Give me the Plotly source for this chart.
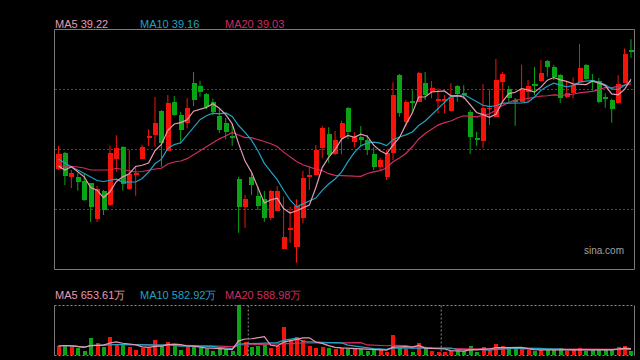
import plotly.graph_objects as go
import pandas as pd

# ---------------- data ----------------
opens = [35.64, 36.28, 35.33, 35.32, 35.16, 35.07, 33.65, 34.76, 34.20, 36.04,
         36.53, 34.84, 35.42, 36.05, 36.90, 37.00, 37.97, 36.37, 38.32, 37.80,
         37.49, 39.08, 38.96, 38.64, 38.32, 37.76, 37.49, 36.93, 35.25, 34.13,
         35.33, 34.56, 34.43, 33.69, 33.97, 32.45, 33.21, 32.53, 33.68, 35.33,
         35.41, 36.49, 37.04, 36.23, 36.89, 38.08, 36.73, 36.93, 36.80, 36.24,
         35.72, 35.33, 36.29, 39.40, 37.53, 38.35, 38.33, 39.08, 38.72, 38.38,
         38.38, 37.96, 38.96, 38.65, 37.92, 36.87, 36.76, 38.04, 37.73, 39.12,
         38.83, 38.38, 38.33, 38.73, 39.02, 39.16, 39.96, 39.72, 39.40, 38.53,
         38.67, 39.13, 39.80, 39.20, 39.16, 38.53, 38.40, 38.27, 39.09, 40.39]
highs = [36.56, 36.32, 35.60, 35.48, 35.44, 35.08, 34.97, 34.80, 36.57, 36.99,
         36.56, 36.41, 35.73, 36.61, 37.23, 38.52, 38.00, 38.60, 38.56, 37.93,
         38.47, 39.52, 39.17, 38.68, 38.45, 38.04, 37.68, 37.44, 35.33, 34.60,
         35.47, 34.93, 34.76, 34.80, 34.96, 34.53, 34.13, 34.43, 35.57, 35.73,
         36.60, 37.36, 37.31, 37.16, 37.57, 38.12, 37.11, 37.36, 37.00, 36.51,
         36.09, 36.40, 39.11, 39.44, 38.40, 38.80, 39.53, 39.52, 39.16, 38.87,
         38.60, 39.07, 39.00, 38.99, 38.00, 37.13, 39.03, 38.83, 40.04, 39.53,
         38.96, 38.48, 39.81, 39.20, 39.72, 40.00, 40.00, 39.80, 39.44, 39.11,
         39.30, 40.64, 39.84, 39.44, 39.28, 38.67, 38.44, 39.39, 40.46, 40.83]
lows = [35.60, 35.00, 34.88, 34.77, 34.36, 33.52, 33.52, 33.80, 34.16, 35.53,
        34.77, 34.80, 34.57, 36.04, 36.56, 36.53, 35.73, 36.36, 37.76, 36.64,
        37.27, 38.16, 38.53, 38.03, 37.80, 37.08, 36.83, 36.56, 33.09, 33.29,
        34.60, 34.00, 33.53, 33.60, 33.96, 32.44, 32.69, 31.89, 33.47, 34.80,
        35.40, 36.07, 35.89, 36.20, 36.23, 36.84, 36.51, 36.56, 36.20, 35.60,
        35.60, 35.20, 36.00, 37.73, 37.33, 37.87, 38.32, 38.40, 38.47, 37.87,
        37.87, 37.94, 38.33, 38.43, 36.24, 36.56, 36.47, 37.40, 37.72, 38.33,
        38.33, 37.37, 38.32, 38.33, 38.60, 39.12, 39.33, 39.20, 38.28, 38.47,
        38.47, 39.12, 39.20, 38.78, 38.27, 38.09, 37.49, 38.26, 39.08, 40.09]
closes = [36.24, 35.37, 35.48, 35.13, 34.40, 34.13, 34.83, 34.00, 36.28, 36.48,
          35.04, 35.45, 35.46, 36.52, 36.94, 37.49, 36.69, 38.29, 37.80, 37.20,
          38.08, 38.40, 38.72, 38.12, 37.92, 37.20, 37.13, 36.89, 34.13, 34.43,
          35.00, 34.16, 33.69, 34.76, 34.76, 32.93, 33.25, 34.16, 35.27, 35.37,
          36.40, 37.28, 36.20, 36.80, 37.49, 37.13, 36.93, 36.80, 36.40, 35.72,
          36.00, 36.27, 38.60, 37.88, 38.32, 38.31, 39.49, 38.60, 38.88, 38.42,
          38.42, 38.51, 38.63, 38.61, 36.93, 36.83, 38.08, 38.08, 39.20, 39.44,
          38.49, 38.34, 38.80, 38.96, 38.98, 39.49, 39.73, 39.33, 38.50, 38.67,
          39.00, 39.69, 39.23, 39.16, 38.33, 38.47, 38.04, 39.04, 40.24, 40.35]
# volume in 万
volumes = [900, 1000, 830, 730, 430, 1730, 1230, 830, 1800, 1000,
           1000, 830, 500, 730, 730, 1500, 930, 1300, 930, 500,
           830, 830, 730, 570, 430, 670, 570, 430, 5000, 1330,
           800, 930, 1070, 730, 900, 2830, 1500, 1830, 1500, 930,
           730, 830, 730, 600, 670, 600, 570, 570, 430, 570,
           570, 330, 2000, 670, 570, 330, 1230, 670, 430, 330,
           330, 430, 430, 430, 900, 330, 830, 500, 1100, 900,
           600, 600, 600, 500, 400, 500, 500, 500, 700, 400,
           500, 700, 400, 500, 600, 500, 600, 800, 900, 400]
ma5_head = [35.76, 35.60, 35.73, 35.53]
ma10_head = [36.04, 35.88, 35.72, 35.60, 35.46, 35.32, 35.18, 35.14, 35.20]
ma20_head = [35.76, 35.76, 35.75, 35.72, 35.68, 35.60, 35.60, 35.60, 35.60, 35.67,
             35.62, 35.54, 35.52, 35.54, 35.60, 35.64, 35.67, 35.84, 35.92]

price_labels = ["MA5 39.22", "MA10 39.16", "MA20 39.03"]
vol_labels = ["MA5 653.61万", "MA10 582.92万", "MA20 588.98万"]
grid_prices = [34.04, 36.44, 38.84]
month_breaks = [29.5, 59.5]

# ---------------- styles ----------------
RED = "#f5140a"
GREEN = "#0aa514"
C_MA5 = "#e89ab4"
C_MA10 = "#1fa3c4"
C_MA20 = "#cf2c62"
W, H = 640, 360

n = len(closes)
x = list(range(n))


def ma(series, k, head):
    vals = pd.Series(series).rolling(k, min_periods=1).mean().tolist()
    for i, v in enumerate(head):
        vals[i] = v
    return vals


ma5 = ma(closes, 5, ma5_head)
ma10 = ma(closes, 10, ma10_head)
ma20 = ma(closes, 20, ma20_head)
vma5 = pd.Series(volumes).rolling(5, min_periods=1).mean().tolist()
vma10 = pd.Series(volumes).rolling(10, min_periods=1).mean().tolist()
vma20 = pd.Series(volumes).rolling(20, min_periods=1).mean().tolist()

up = [c >= o for o, c in zip(opens, closes)]
colors = [RED if u else GREEN for u in up]
base = [min(o, c) for o, c in zip(opens, closes)]
body = [max(abs(c - o), 0.04) for o, c in zip(opens, closes)]

fig = go.Figure()

# wicks
for flag, col in ((True, RED), (False, GREEN)):
    wx, wy = [], []
    for i in range(n):
        if up[i] == flag:
            wx += [i, i, None]
            wy += [lows[i], highs[i], None]
    fig.add_trace(go.Scatter(x=wx, y=wy, mode="lines", line=dict(color=col, width=1),
                             hoverinfo="skip", showlegend=False, xaxis="x", yaxis="y"))

# bodies
fig.add_trace(go.Bar(x=x, y=body, base=base, width=0.78, marker=dict(color=colors, line=dict(width=0)),
                     showlegend=False, xaxis="x", yaxis="y"))

for vals, col in ((ma20, C_MA20), (ma10, C_MA10), (ma5, C_MA5)):
    fig.add_trace(go.Scatter(x=x, y=vals, mode="lines", line=dict(color=col, width=1.2),
                             showlegend=False, xaxis="x", yaxis="y"))

# volume
fig.add_trace(go.Bar(x=x, y=volumes, width=0.62, marker=dict(color=colors, line=dict(width=0)),
                     showlegend=False, xaxis="x2", yaxis="y2"))
for vals, col in ((vma20, C_MA20), (vma10, C_MA10), (vma5, C_MA5)):
    fig.add_trace(go.Scatter(x=x, y=vals, mode="lines", line=dict(color=col, width=1.2),
                             showlegend=False, xaxis="x2", yaxis="y2"))

px = lambda v: v / W
py = lambda v: 1 - v / H

xr = [-0.62, 89.47]
common_x = dict(range=xr, showgrid=False, zeroline=False, showticklabels=False, showline=False,
                domain=[px(54.5), px(634)], fixedrange=True)
fig.update_layout(
    width=W, height=H,
    margin=dict(l=0, r=0, t=0, b=0),
    paper_bgcolor="#000000", plot_bgcolor="#000000",
    bargap=0, barmode="overlay",
    xaxis=dict(**common_x, anchor="y"),
    xaxis2=dict(**common_x, anchor="y2"),
    yaxis=dict(domain=[py(269), py(29)], range=[31.64, 41.24], tickvals=grid_prices,
               showticklabels=False, zeroline=False, gridcolor="#4a4a4a", griddash="2px,2px",
               gridwidth=1, showline=False),
    yaxis2=dict(domain=[py(355), py(305)], range=[0, 5000], showgrid=False, zeroline=False,
                showticklabels=False, showline=False),
    font=dict(family="Liberation Sans, Arial, sans-serif"),
)

shapes = []
# price panel frame
shapes.append(dict(type="rect", xref="paper", yref="paper", x0=px(54.5), x1=px(634.5),
                   y0=py(269.5), y1=py(29.5), line=dict(color="#7a7a7a", width=1)))
# volume panel frame
for x0 in (54.5, 634.5):
    shapes.append(dict(type="line", xref="paper", yref="paper", x0=px(x0), x1=px(x0),
                       y0=py(355.5), y1=py(305.5), line=dict(color="#7a7a7a", width=1)))
for y0 in (305.5, 355.5):
    shapes.append(dict(type="line", xref="paper", yref="paper", x0=px(54.5), x1=px(634.5),
                       y0=py(y0), y1=py(y0), line=dict(color="#8a8a8a", width=1, dash="2px,2px")))
for mb in month_breaks:
    shapes.append(dict(type="line", xref="x2", yref="paper", x0=mb, x1=mb,
                       y0=py(355.5), y1=py(305.5), line=dict(color="#8a8a8a", width=1, dash="2px,2px")))
fig.update_layout(shapes=shapes)

ann = []
for txt, xpos, col in zip(price_labels, (53, 138, 223), (C_MA5, C_MA10, C_MA20)):
    ann.append(dict(text=txt, xref="paper", yref="paper", x=px(xpos), y=py(24), xanchor="left",
                    yanchor="middle", showarrow=False, font=dict(size=11, color=col)))
for txt, xpos, col in zip(vol_labels, (53, 138, 223), (C_MA5, C_MA10, C_MA20)):
    ann.append(dict(text=txt, xref="paper", yref="paper", x=px(xpos), y=py(295), xanchor="left",
                    yanchor="middle", showarrow=False, font=dict(size=11, color=col)))
ann.append(dict(text="sina.com", xref="paper", yref="paper", x=px(626), y=py(250), xanchor="right",
                yanchor="middle", showarrow=False, font=dict(size=10, color="#a0a0a0")))
fig.update_layout(annotations=ann)

fig.write_html("out.html", config={"displayModeBar": False},
               post_script="document.body.style.margin='0';document.body.style.background='#000';")
